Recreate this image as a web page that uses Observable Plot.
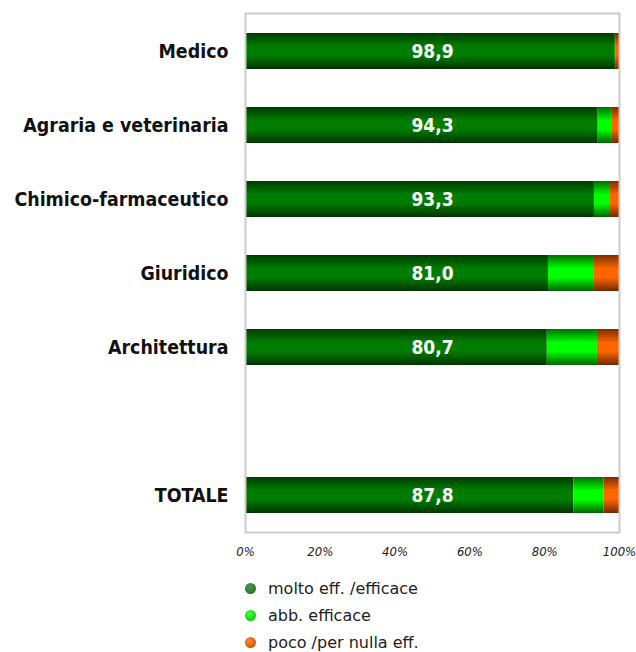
<!DOCTYPE html>
<html><head><meta charset="utf-8">
<script src="https://cdn.jsdelivr.net/npm/d3@7"></script>
<script src="https://cdn.jsdelivr.net/npm/@observablehq/plot@0.6"></script>
<style>
body{margin:0;background:#fff;font-family:"DejaVu Sans Condensed","DejaVu Sans",sans-serif;}
#chart svg{display:block;}
#chart g[aria-label="x-axis tick label"] text{font-style:italic;font-size:13px;fill:#222;}
#chart g[aria-label="y-axis tick label"] text{font-weight:bold;font-size:19.4px;fill:#111;}
#legend{margin-top:5px;}
.row{height:27px;display:flex;align-items:center;}
.dot{width:11px;height:11px;border-radius:50%;margin-left:245px;margin-right:12px;}
.lbl{font-family:"DejaVu Sans",sans-serif;font-size:16px;color:#222;}
</style></head><body>
<div id="chart"></div><div id="legend"></div>
<script>
const categories = ["Medico","Agraria e veterinaria","Chimico-farmaceutico","Giuridico","Architettura"," ","TOTALE"];
const series = ["molto eff. /efficace","abb. efficace","poco /per nulla eff."];
const molto = [98.9, 94.3, 93.3, 81.0, 80.7, null, 87.8];
const abb   = [0.3, 3.8, 4.3, 12.3, 13.4, null, 8.1];
const poco  = [0.8, 1.9, 2.4, 6.7, 5.9, null, 4.1];
const xTicks = [0, 20, 40, 60, 80, 100];
const barFills = ["url(#gDark)", "url(#gLight)", "url(#gOrange)"];
const legendDots = [
  "radial-gradient(circle at 40% 35%, #4a9a4a, #1f621f)",
  "radial-gradient(circle at 40% 35%, #40ff40, #00b800)",
  "radial-gradient(circle at 40% 35%, #ff8a30, #b84600)"
];

const rows = [];
categories.forEach((c, i) => {
  [molto, abb, poco].forEach((arr, j) => {
    if (arr[i] != null) rows.push({cat: c, series: series[j], value: arr[i]});
  });
});
const labels = categories.map((c, i) => ({cat: c, v: molto[i]})).filter(d => d.v != null);
const fmt = v => d3.format(".1f")(v).replace(".", ",");

function gradients() {
  const g = d3.create("svg:g");
  const defs = g.append("defs");
  const mk = (id, edgeTop, mid, edgeBot) => {
    const lg = defs.append("linearGradient").attr("id", id).attr("x1", 0).attr("y1", 0).attr("x2", 0).attr("y2", 1);
    [[0, edgeTop], [0.38, mid], [0.62, mid], [1, edgeBot]].forEach(([o, c]) =>
      lg.append("stop").attr("offset", o).attr("stop-color", c));
  };
  mk("gDark", "#003c00", "#007d00", "#003400");
  mk("gLight", "#007000", "#00ff00", "#006400");
  mk("gOrange", "#7a2e00", "#ff6600", "#702a00");
  return g.node();
}

const chart = Plot.plot({
  width: 636, height: 570,
  marginTop: 13, marginBottom: 38, marginLeft: 245, marginRight: 17,
  style: {fontFamily: '"DejaVu Sans Condensed","DejaVu Sans",sans-serif', fontSize: "13px", background: "#fff"},
  x: {domain: [0, 100], label: null},
  y: {domain: categories, paddingInner: 0.515, paddingOuter: 0.25, label: null},
  color: {domain: series, range: barFills},
  marks: [
    gradients,
    Plot.barX(rows, Plot.stackX({y: "cat", x: "value", fill: "series"})),
    Plot.frame({stroke: "#cccccc", strokeWidth: 2}),
    Plot.text(labels, {y: "cat", text: d => fmt(d.v), frameAnchor: "middle", fill: "white", fontWeight: "bold", fontSize: 19}),
    Plot.axisX({ticks: xTicks, tickFormat: d => d + "%", tickSize: 0, tickPadding: 14, label: null}),
    Plot.axisY({tickSize: 0, tickPadding: 17, label: null})
  ]
});
document.getElementById("chart").append(chart);

const legend = d3.select("#legend");
series.forEach((s, i) => {
  const r = legend.append("div").attr("class", "row");
  r.append("div").attr("class", "dot").style("background", legendDots[i]);
  r.append("div").attr("class", "lbl").text(s);
});
</script>
</body></html>
